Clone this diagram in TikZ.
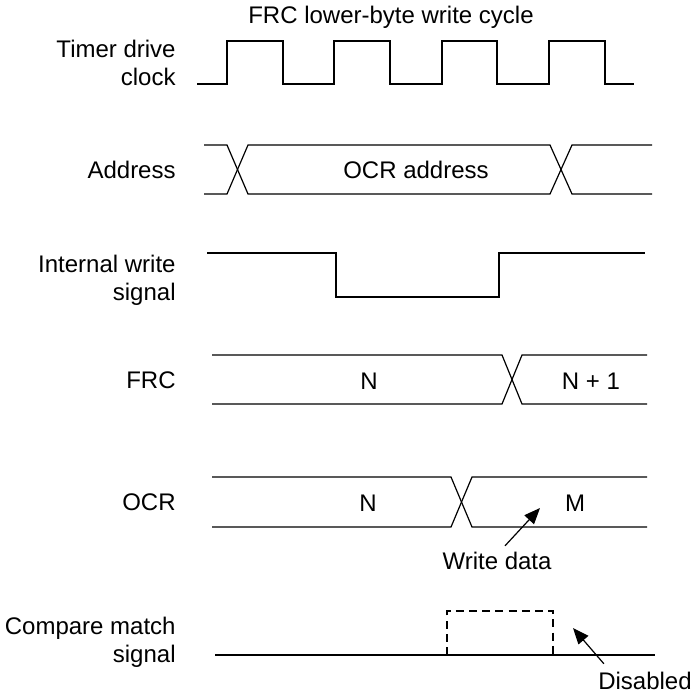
\documentclass[tikz,border=0pt]{standalone}
\usepackage{fontspec}
\setmainfont{Liberation Sans}
\usepackage{tikz}
\usetikzlibrary{
  arrows.meta,
  positioning
}

\begin{document}
\begin{tikzpicture}[
  x=0.5pt, y=-0.5pt,
  wave/.style={line width=0.6pt, line join=miter},
  ghost/.style={line width=0.6pt, dash pattern=on 4pt off 2.6pt},
  signame/.style={align=right, anchor=east, inner sep=0pt,
                  font=\fontsize{12}{14}\selectfont},
  busval/.style={inner sep=1pt, font=\fontsize{12}{14}\selectfont},
  pointer/.style={-{Triangle[length=8pt, width=6.5pt]}, line width=0.6pt}
]
  \useasboundingbox (0,0) rectangle (694,693);

  % Title and signal names
  \node[busval] (title) at (391,17) {FRC lower-byte write cycle};
  \node[signame] (clk)  at (176,63)  {Timer drive\\clock};
  \node[signame] (addr) at (176,170) {Address};
  \node[signame] (wr)   at (176,280) {Internal write\\signal};
  \node[signame] (frc)  at (176,380) {FRC};
  \node[signame] (ocr)  at (176,502) {OCR};
  \node[signame] (cmp)  at (176,642) {Compare match\\signal};

  % Timer drive clock
  \draw[wave] (197,84) -| (227,41) -| (283,84) -| (334,41) -| (390,84)
              -| (442,41) -| (497,84) -| (549,41) -| (605,84) -- (634,84);

  % Address bus
  \draw[wave] (204,145) -- (227,145) -- (248,194) -- (550,194) -- (572,145) -- (652,145);
  \draw[wave] (204,194) -- (227,194) -- (248,145) -- (550,145) -- (572,194) -- (652,194);
  \node[busval] (ocraddr) at (416,170) {OCR address};

  % Internal write signal
  \draw[wave] (207,253) -| (336,297) -| (499,253) -- (645,253);

  % FRC
  \draw[wave] (212,355) -- (502,355) -- (522,404) -- (647,404);
  \draw[wave] (212,404) -- (502,404) -- (522,355) -- (647,355);
  \node[busval] (frcn)  at (369,381) {N};
  \node[busval] (frcn1) at (591,381) {N + 1};

  % OCR
  \draw[wave] (212,477) -- (451,477) -- (472,527) -- (647,527);
  \draw[wave] (212,527) -- (451,527) -- (472,477) -- (647,477);
  \node[busval] (ocrn) at (368,503) {N};
  \node[busval] (ocrm) at (575,503) {M};

  \node[busval] (wdata) at (497,561) {Write data};
  \coordinate (wdtip) at (540,508);
  \draw[pointer] ([xshift=4pt,yshift=2pt]wdata.north) -- (wdtip);

  % Compare match signal
  \draw[wave] (215,655) -- (655,655);
  \draw[ghost] (447,655) |- (553,611) -- (553,655);

  \node[busval] (dis) at (645,681) {Disabled};
  \coordinate (distip) at (573,628);
  \draw[pointer] ([xshift=4pt,yshift=3pt]dis.north west) -- (distip);
\end{tikzpicture}
\end{document}
